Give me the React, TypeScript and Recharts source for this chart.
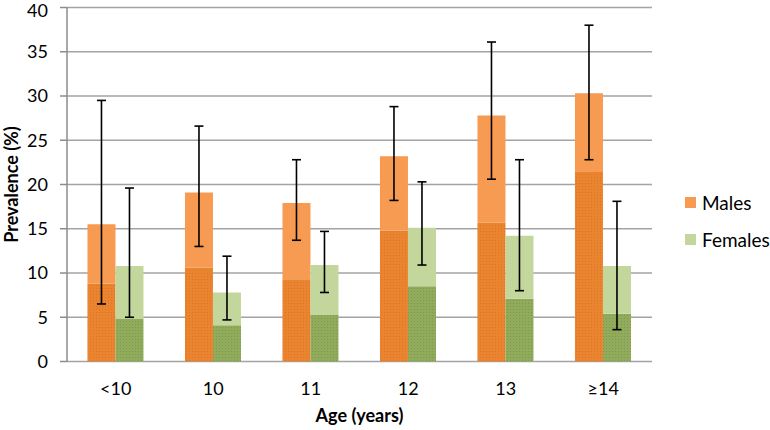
import { Bar, BarChart, CartesianGrid, ErrorBar, Legend, XAxis, YAxis } from 'recharts';

const ages = ['<10', '10', '11', '12', '13', '≥14'];

const maleLower = [8.8, 10.6, 9.3, 14.8, 15.7, 21.4];
const maleTotal = [15.5, 19.1, 17.9, 23.2, 27.8, 30.3];
const maleCiLow = [6.5, 13.0, 13.7, 18.2, 20.6, 22.8];
const maleCiHigh = [29.5, 26.6, 22.8, 28.8, 36.1, 38.0];

const femaleLower = [4.8, 4.1, 5.3, 8.5, 7.1, 5.4];
const femaleTotal = [10.8, 7.8, 10.9, 15.1, 14.2, 10.8];
const femaleCiLow = [5.0, 4.7, 7.8, 10.9, 8.0, 3.6];
const femaleCiHigh = [19.6, 11.9, 14.7, 20.3, 22.8, 18.1];

const yTicks = [0, 5, 10, 15, 20, 25, 30, 35, 40];
const boundaryTicks = [0, 1, 2, 3, 4, 5, 6];

const data = ages.map((age, i) => ({
  age,
  maleLow: maleLower[i],
  maleUp: +(maleTotal[i] - maleLower[i]).toFixed(2),
  maleErr: [+(maleTotal[i] - maleCiLow[i]).toFixed(2), +(maleCiHigh[i] - maleTotal[i]).toFixed(2)],
  femaleLow: femaleLower[i],
  femaleUp: +(femaleTotal[i] - femaleLower[i]).toFixed(2),
  femaleErr: [+(femaleTotal[i] - femaleCiLow[i]).toFixed(2), +(femaleCiHigh[i] - femaleTotal[i]).toFixed(2)],
}));

const font = 'Lato, "Open Sans", sans-serif';
const lightOrange = '#F79B53';
const lightGreen = '#C3D69B';

const LegendBox = () => (
  <div style={{ fontFamily: font, fontSize: 19, color: '#000' }}>
    {[
      { name: 'Males', color: lightOrange },
      { name: 'Females', color: lightGreen },
    ].map((item) => (
      <div key={item.name} style={{ display: 'flex', alignItems: 'center', height: 37 }}>
        <span style={{ width: 11, height: 11, background: item.color, marginRight: 6, display: 'inline-block' }} />
        {item.name}
      </div>
    ))}
  </div>
);

export default function App() {
  return (
    <div style={{ position: 'absolute', left: 0, top: 0 }}>
      <BarChart
        width={770}
        height={430}
        data={data}
        margin={{ top: 7.5, right: 33, bottom: 0, left: 0 }}
        barCategoryGap="21%"
        barGap={0}
      >
        <defs>
          <pattern id="dotOrange" width="3" height="3" patternUnits="userSpaceOnUse">
            <rect width="3" height="3" fill="#EA842F" />
            <rect width="1" height="1" fill="#D8752A" />
          </pattern>
          <pattern id="dotGreen" width="3" height="3" patternUnits="userSpaceOnUse">
            <rect width="3" height="3" fill="#8FAB5B" />
            <rect width="1" height="1" fill="#7D994C" />
          </pattern>
        </defs>
        <CartesianGrid vertical={false} stroke="#a3a3a3" strokeWidth={1.5} />
        <XAxis
          xAxisId="bounds"
          type="number"
          domain={[0, 6]}
          ticks={boundaryTicks}
          tick={false}
          height={0}
          axisLine={{ stroke: '#8c8c8c', strokeWidth: 1.5 }}
          tickLine={{ stroke: '#8c8c8c', strokeWidth: 1.5 }}
          tickSize={7}
          allowDataOverflow
        />
        <XAxis
          dataKey="age"
          height={68.5}
          axisLine={false}
          tickLine={false}
          tick={{ fill: '#000', fontSize: 18, fontFamily: font }}
          tickMargin={15}
          label={{
            value: 'Age (years)',
            position: 'insideBottom',
            offset: 8,
            style: { fontFamily: font, fontSize: 18, fontWeight: 700, fill: '#000' },
          }}
        />
        <YAxis
          width={67}
          domain={[0, 40]}
          ticks={yTicks}
          tick={{ fill: '#000', fontSize: 18, fontFamily: font }}
          axisLine={{ stroke: '#8c8c8c', strokeWidth: 1.5 }}
          tickLine={{ stroke: '#8c8c8c', strokeWidth: 1.5 }}
          tickSize={7}
          tickMargin={12}
          label={{
            value: 'Prevalence (%)',
            angle: -90,
            position: 'insideLeft',
            offset: 12,
            style: { textAnchor: 'middle', fontFamily: font, fontSize: 18, fontWeight: 700, fill: '#000' },
          }}
        />
        <Legend
          layout="vertical"
          align="right"
          verticalAlign="middle"
          content={<LegendBox />}
          wrapperStyle={{ left: 685, top: 184, width: 85 }}
        />
        <Bar dataKey="maleLow" stackId="m" fill="url(#dotOrange)" isAnimationActive={false} />
        <Bar dataKey="maleUp" stackId="m" fill={lightOrange} isAnimationActive={false}>
          <ErrorBar dataKey="maleErr" width={4.5} stroke="#000" strokeWidth={1.6} direction="y" />
        </Bar>
        <Bar dataKey="femaleLow" stackId="f" fill="url(#dotGreen)" isAnimationActive={false} />
        <Bar dataKey="femaleUp" stackId="f" fill={lightGreen} isAnimationActive={false}>
          <ErrorBar dataKey="femaleErr" width={4.5} stroke="#000" strokeWidth={1.6} direction="y" />
        </Bar>
      </BarChart>
    </div>
  );
}
